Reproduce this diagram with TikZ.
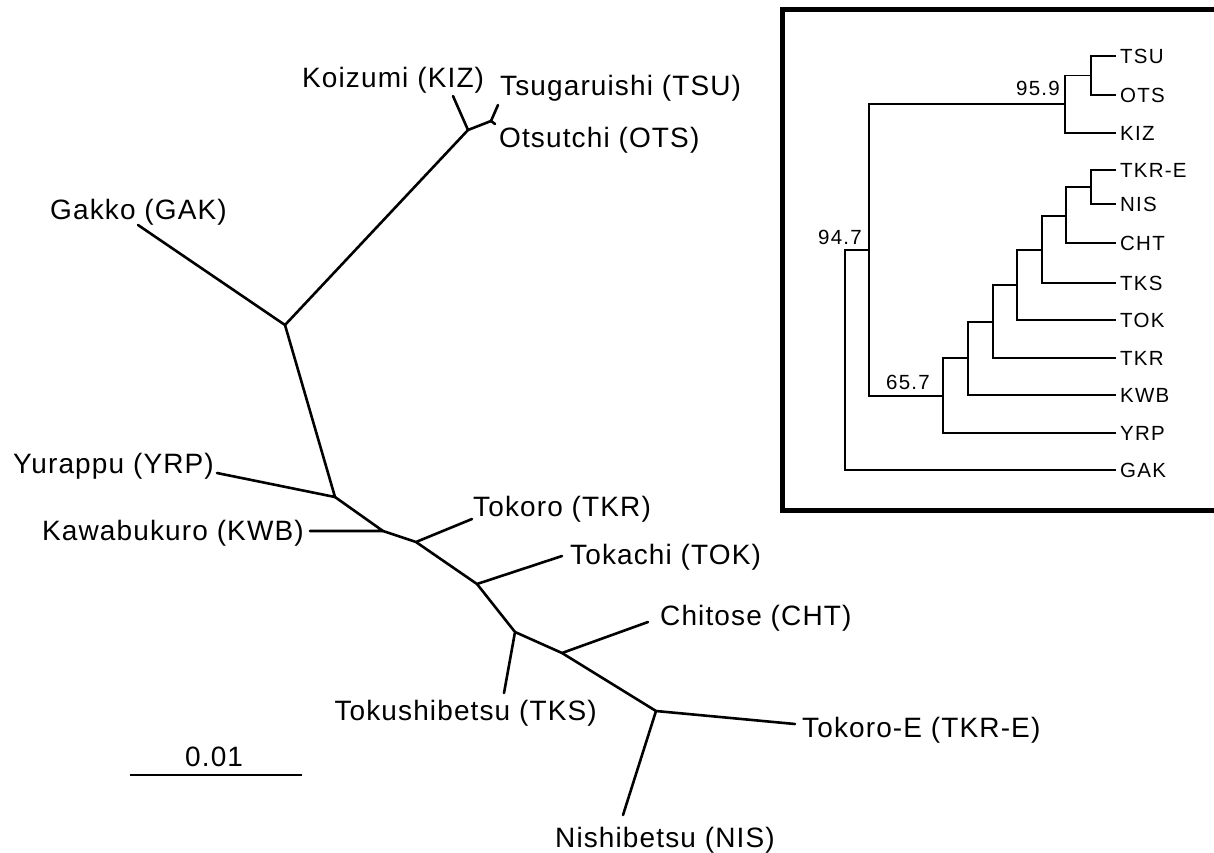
\documentclass[tikz,border=0pt]{standalone}
\usepackage{fontspec}
\setmainfont{Liberation Sans}[LetterSpace=4]
\newfontfamily\insetfont{Liberation Sans}[LetterSpace=6]
\begin{document}
\begin{tikzpicture}[x=1pt,y=-1pt,
  br/.style={line width=2.6pt, line cap=round, line join=round},
  ibr/.style={line width=1.4pt},
  lbl/.style={font=\fontsize{28}{32}\selectfont, inner sep=0pt, anchor=base west},
  ilbl/.style={font=\insetfont\fontsize{20.5}{24}\selectfont, inner xsep=4pt, inner ysep=0pt, anchor=west},
  inum/.style={font=\insetfont\fontsize{20.5}{24}\selectfont, inner sep=0pt, anchor=east},
  frame/.style={line width=5pt}]
\useasboundingbox (0,0) rectangle (1214,852);
\clip (0,0) rectangle (1214,852);

% ---------------- unrooted tree ----------------
\coordinate (A) at (468,130);
\coordinate (B) at (491,121);
\coordinate (C) at (285,325);
\coordinate (D) at (335,497);
\coordinate (E) at (383,531);
\coordinate (F) at (416,542);
\coordinate (G) at (477,584);
\coordinate (H) at (515,632);
\coordinate (I) at (562,653);
\coordinate (J) at (656,711);

\coordinate (tKIZ) at (453,96);
\coordinate (tTSU) at (498,105);
\coordinate (tOTS) at (495,124);
\coordinate (tGAK) at (138,225);
\coordinate (tYRP) at (217,473);
\coordinate (tKWB) at (310,531);
\coordinate (tTKR) at (472,519);
\coordinate (tTOK) at (562,556);
\coordinate (tTKS) at (504,693);
\coordinate (tCHT) at (648,622);
\coordinate (tTKRE) at (795,724);
\coordinate (tNIS) at (623,815);

\draw[br] (tKIZ) -- (A) -- (B) -- (tTSU);
\draw[br] (B) -- (tOTS);
\draw[br] (A) -- (C) -- (tGAK);
\draw[br] (C) -- (D) -- (tYRP);
\draw[br] (D) -- (E) -- (tKWB);
\draw[br] (E) -- (F) -- (tTKR);
\draw[br] (F) -- (G) -- (tTOK);
\draw[br] (G) -- (H) -- (tTKS);
\draw[br] (H) -- (I) -- (tCHT);
\draw[br] (I) -- (J) -- (tTKRE);
\draw[br] (J) -- (tNIS);

\node[lbl] (LKIZ) at (302,87) {Koizumi (KIZ)};
\node[lbl] (LTSU) at (500,95) {Tsugaruishi (TSU)};
\node[lbl] (LOTS) at (499,147) {Otsutchi (OTS)};
\node[lbl] (LGAK) at (50,219) {Gakko (GAK)};
\node[lbl] (LYRP) at (13,473) {Yurappu (YRP)};
\node[lbl] (LKWB) at (42,540) {Kawabukuro (KWB)};
\node[lbl] (LTKR) at (473,516) {Tokoro (TKR)};
\node[lbl] (LTOK) at (570,564) {Tokachi (TOK)};
\node[lbl] (LCHT) at (660,625) {Chitose (CHT)};
\node[lbl, anchor=base east] (LTKS) at (597,720) {Tokushibetsu (TKS)};
\node[lbl] (LTKRE) at (802,737) {Tokoro-E (TKR-E)};
\node[lbl] (LNIS) at (555,847) {Nishibetsu (NIS)};

% scale bar
\coordinate (s1) at (130,775);
\coordinate (s2) at (302,775);
\draw[line width=1.4pt] (s1) -- (s2);
\node[lbl] (Lscale) at (185,766) {0.01};

% ---------------- inset ----------------
\draw[frame] (782,9) rectangle (1224,510);

\node[ilbl] (iTSU) at (1116,56) {TSU};
\node[ilbl] (iOTS) at (1116,95) {OTS};
\node[ilbl] (iKIZ) at (1116,133) {KIZ};
\node[ilbl] (iTKRE) at (1116,170) {TKR-E};
\node[ilbl] (iNIS) at (1116,204) {NIS};
\node[ilbl] (iCHT) at (1116,243) {CHT};
\node[ilbl] (iTKS) at (1116,283) {TKS};
\node[ilbl] (iTOK) at (1116,320) {TOK};
\node[ilbl] (iTKR) at (1116,358) {TKR};
\node[ilbl] (iKWB) at (1116,395) {KWB};
\node[ilbl] (iYRP) at (1116,433) {YRP};
\node[ilbl] (iGAK) at (1116,470) {GAK};

\coordinate (nTO) at (1091,75.5);
\coordinate (n959) at (1065,104);
\coordinate (nTN) at (1091,187);
\coordinate (nC) at (1066,216);
\coordinate (nS) at (1042,250);
\coordinate (nT) at (1017,285);
\coordinate (nR) at (993,322);
\coordinate (nK) at (968,358);
\coordinate (n657) at (943,396);
\coordinate (nIn) at (869,250);
\coordinate (n947) at (845,360);

\draw[ibr] (nTO) |- (iTSU.west);
\draw[ibr] (nTO) |- (iOTS.west);
\draw[ibr] (n959) |- (nTO);
\draw[ibr] (n959) |- (iKIZ.west);
\draw[ibr] (nTN) |- (iTKRE.west);
\draw[ibr] (nTN) |- (iNIS.west);
\draw[ibr] (nC) |- (nTN);
\draw[ibr] (nC) |- (iCHT.west);
\draw[ibr] (nS) |- (nC);
\draw[ibr] (nS) |- (iTKS.west);
\draw[ibr] (nT) |- (nS);
\draw[ibr] (nT) |- (iTOK.west);
\draw[ibr] (nR) |- (nT);
\draw[ibr] (nR) |- (iTKR.west);
\draw[ibr] (nK) |- (nR);
\draw[ibr] (nK) |- (iKWB.west);
\draw[ibr] (n657) |- (nK);
\draw[ibr] (n657) |- (iYRP.west);
\draw[ibr] (nIn) |- (n959);
\draw[ibr] (nIn) |- (n657);
\draw[ibr] (n947) |- (nIn);
\draw[ibr] (n947) |- (iGAK.west);

\node[inum] (b959) at (1060,88) {95.9};
\node[inum] (b947) at (862,237) {94.7};
\node[inum] (b657) at (930,382) {65.7};
\end{tikzpicture}
\end{document}
